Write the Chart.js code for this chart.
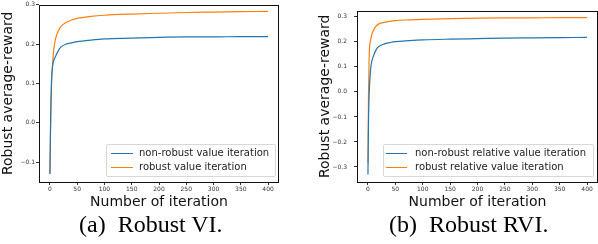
<!DOCTYPE html>
<html>
<head>
<meta charset="utf-8">
<script src="https://cdn.jsdelivr.net/npm/chart.js@4.4.1/dist/chart.umd.min.js"></script>
<style>
  body { margin: 0; background: #fff; width: 598px; height: 244px; overflow: hidden; position: relative; }
  .box { position: absolute; top: 0; }
  .legend { position: absolute; border: 1px solid #d8d8d8; border-radius: 2px; background: rgba(255,255,255,0.85);
            font-family: "DejaVu Sans", sans-serif; font-size: 10px; color: #222; }
  .row { position: absolute; left: 0; height: 12px; line-height: 12px; white-space: nowrap; }
  .row i { position: absolute; top: 6px; height: 1.3px; }
  .row span { position: absolute; top: 0; }
  .cap { position: absolute; top: 211px; font-family: "Liberation Serif", "Times New Roman", serif; font-size: 24px; color: #000; white-space: nowrap; }
</style>
</head>
<body>
<div class="box" style="left:0"><canvas id="vi" width="300" height="212"></canvas></div>
<div class="box" style="left:300px"><canvas id="rvi" width="298" height="212"></canvas></div>

<div class="legend" style="left:106px; top:144px; width:168px; height:31px;">
  <div class="row" style="top:2px"><i style="left:4px; width:22px; background:#1f77b4"></i><span style="left:32px">non-robust value iteration</span></div>
  <div class="row" style="top:16px"><i style="left:4px; width:22px; background:#ff7f0e"></i><span style="left:32px">robust value iteration</span></div>
</div>
<div class="legend" style="left:383px; top:144px; width:209px; height:31px;">
  <div class="row" style="top:2px"><i style="left:2px; width:21px; background:#1f77b4"></i><span style="left:31px">non-robust relative value iteration</span></div>
  <div class="row" style="top:16px"><i style="left:2px; width:21px; background:#ff7f0e"></i><span style="left:31px">robust relative value iteration</span></div>
</div>

<div class="cap" style="left:79px">(a)&nbsp;&nbsp;Robust VI.</div>
<div class="cap" style="left:389px">(b)&nbsp;&nbsp;Robust RVI.</div>

<script>
// iterations
const iters = [0, 1, 2, 3, 5, 7, 10, 15, 20, 30, 40, 50, 75, 100, 150, 200, 250, 300, 350, 400];

// (a) Robust VI
const viNonRobust = [-0.13, -0.02, 0.06, 0.11, 0.145, 0.158, 0.168, 0.182, 0.192, 0.200, 0.203, 0.206, 0.210, 0.213, 0.215, 0.217, 0.218, 0.218, 0.219, 0.219];
const viRobust    = [-0.13, -0.04, 0.05, 0.10, 0.15, 0.185, 0.211, 0.232, 0.244, 0.255, 0.261, 0.265, 0.270, 0.273, 0.276, 0.278, 0.280, 0.281, 0.282, 0.283];

// (b) Robust RVI
const rviNonRobust = [-0.33, -0.12, -0.02, 0.03, 0.093, 0.122, 0.143, 0.169, 0.182, 0.192, 0.197, 0.201, 0.205, 0.208, 0.211, 0.213, 0.215, 0.216, 0.217, 0.218];
const rviRobust    = [-0.285, -0.02, 0.12, 0.18, 0.208, 0.230, 0.246, 0.263, 0.272, 0.278, 0.282, 0.285, 0.288, 0.290, 0.293, 0.295, 0.296, 0.296, 0.297, 0.297];

const xTicks = [0, 50, 100, 150, 200, 250, 300, 350, 400];
const blue = '#1f77b4', orange = '#ff7f0e';

const frame = {
  id: 'frame',
  afterDraw(chart) {
    const a = chart.chartArea, c = chart.ctx;
    c.save();
    c.strokeStyle = '#111';
    c.lineWidth = 1;
    c.strokeRect(Math.round(a.left) + 0.5, Math.round(a.top) + 0.5, Math.round(a.right - a.left) - 1, Math.round(a.bottom - a.top));
    c.restore();
  }
};

function points(ys) {
  return iters.map((x, i) => ({ x: x, y: ys[i] }));
}

function makeChart(id, series, opt) {
  new Chart(document.getElementById(id), {
    type: 'line',
    data: {
      datasets: [
        { data: points(series[0]), borderColor: blue, borderWidth: 1.2, pointRadius: 0, cubicInterpolationMode: 'monotone' },
        { data: points(series[1]), borderColor: orange, borderWidth: 1.2, pointRadius: 0, cubicInterpolationMode: 'monotone' }
      ]
    },
    options: {
      responsive: false,
      animation: false,
      events: [],
      layout: { padding: { top: opt.top, right: opt.right, left: 0, bottom: 0 } },
      plugins: { legend: { display: false }, tooltip: { enabled: false } },
      scales: {
        x: {
          type: 'linear', min: -20, max: 420,
          afterBuildTicks: s => { s.ticks = xTicks.map(v => ({ value: v })); },
          afterFit: s => { s.height = 212 - opt.bottom; },
          grid: { display: true, drawOnChartArea: false, drawTicks: true, tickLength: 3, color: '#333' },
          border: { display: false },
          ticks: { font: { family: 'DejaVu Sans', size: 6 }, color: '#333', padding: 1, maxRotation: 0 },
          title: { display: true, text: 'Number of iteration', font: { family: 'DejaVu Sans', size: 14 }, color: '#111', padding: { top: 0, bottom: 1 } }
        },
        y: {
          type: 'linear', min: opt.ymin, max: opt.ymax,
          afterBuildTicks: s => { s.ticks = opt.yTicks.map(v => ({ value: v })); },
          afterFit: s => { s.width = opt.left; },
          grid: { display: true, drawOnChartArea: false, drawTicks: true, tickLength: 3, color: '#333' },
          border: { display: false },
          ticks: { font: { family: 'DejaVu Sans', size: 6 }, color: '#333', padding: opt.tickPad,
                   callback: v => (v < 0 ? '\u2212' : '') + Math.abs(v).toFixed(1) },
          title: { display: true, text: 'Robust average-reward', font: { family: 'DejaVu Sans', size: 14 }, color: '#111', padding: { top: opt.titlePad, bottom: 0 } }
        }
      }
    },
    plugins: [frame]
  });
}

makeChart('vi', [viNonRobust, viRobust], {
  top: 3, right: 21, left: 39, bottom: 182, ymin: -0.15, ymax: 0.30,
  yTicks: [-0.1, 0.0, 0.1, 0.2, 0.3], tickPad: 1, titlePad: 0
});
makeChart('rvi', [rviNonRobust, rviRobust], {
  top: 3, right: 0, left: 57, bottom: 182, ymin: -0.36, ymax: 0.325,
  yTicks: [-0.3, -0.2, -0.1, 0.0, 0.1, 0.2, 0.3], tickPad: 7, titlePad: 17
});
</script>
</body>
</html>
